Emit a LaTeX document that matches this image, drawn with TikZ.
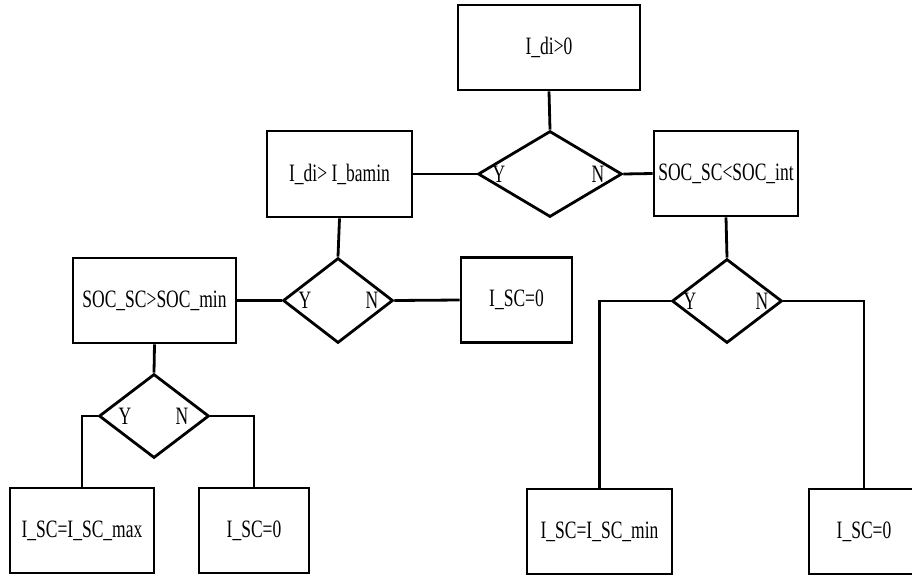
\documentclass[tikz,border=0pt]{standalone}
\usepackage{fontspec}
\usepackage{graphicx}
\setmainfont{Liberation Serif}
\usetikzlibrary{shapes.geometric}
\newcommand\lbl[1]{\scalebox{0.7}[1]{\fontsize{25}{25}\selectfont #1}}
\tikzset{
  box/.style={draw, line width=2.8pt, rectangle, inner sep=0pt, minimum height=85pt},
  dia/.style={draw, line width=2.8pt, diamond, inner sep=0pt, minimum width=110pt, minimum height=85pt},
  yn/.style={inner sep=0pt},
  conn/.style={line width=2.8pt}
}
\begin{document}
\begin{tikzpicture}[x=1pt,y=-1pt]
\useasboundingbox (0,0) rectangle (912,576);
% boxes
\node[box, minimum width=182pt] (top) at (549,47.5) {\lbl{I\_di>0}};
\node[box, minimum width=145pt, minimum height=86pt] (bamin) at (339.5,174) {\lbl{I\_di> I\_bamin}};
\node[box, minimum width=144pt] (int) at (726,173.5) {\lbl{SOC\_SC<SOC\_int}};
\node[box, minimum width=163pt] (smin) at (154.5,300.5) {\lbl{SOC\_SC>SOC\_min}};
\node[box, minimum width=111pt] (zeroa) at (516.5,300) {\lbl{I\_SC=0}};
\node[box, minimum width=144pt] (max) at (82,530.5) {\lbl{I\_SC=I\_SC\_max}};
\node[box, minimum width=110pt] (zerob) at (254,530.5) {\lbl{I\_SC=0}};
\node[box, minimum width=145pt] (imin) at (599.5,531.5) {\lbl{I\_SC=I\_SC\_min}};
\node[box, minimum width=110pt] (zeroc) at (864,531.5) {\lbl{I\_SC=0}};
% diamonds
\node[dia, minimum width=144pt, minimum height=86pt] (d1) at (550,174) {};
\node[dia] (d2) at (338,300.5) {};
\node[dia, minimum height=84pt] (d3) at (727,301) {};
\node[dia, minimum height=84pt] (d4) at (154,416) {};
% Y / N labels
\node[yn] (d1y) at (499,174) {\lbl{Y}};
\node[yn] (d1n) at (598,174) {\lbl{N}};
\node[yn] (d2y) at (305,300.5) {\lbl{Y}};
\node[yn] (d2n) at (372,300.5) {\lbl{N}};
\node[yn] (d3y) at (690,301) {\lbl{Y}};
\node[yn] (d3n) at (762,301) {\lbl{N}};
\node[yn] (d4y) at (125,416) {\lbl{Y}};
\node[yn] (d4n) at (182,416) {\lbl{N}};
% connectors
\draw[conn] (top.south) -- (d1.north);
\draw[conn] (d1.west) -- (bamin.east);
\draw[conn] (d1.east) -- (int.west);
\draw[conn] (bamin.south) -- (d2.north);
\draw[conn] (d2.west) -- (smin.east);
\draw[conn] (d2.east) -- (zeroa.west);
\draw[conn] (int.south) -- (d3.north);
\draw[conn] (smin.south) -- (d4.north);
\draw[conn] (d4.west) -| (max.north);
\draw[conn] (d4.east) -| (zerob.north);
\draw[conn] (d3.west) -| (imin.north);
\draw[conn] (d3.east) -| (zeroc.north);
\end{tikzpicture}
\end{document}
